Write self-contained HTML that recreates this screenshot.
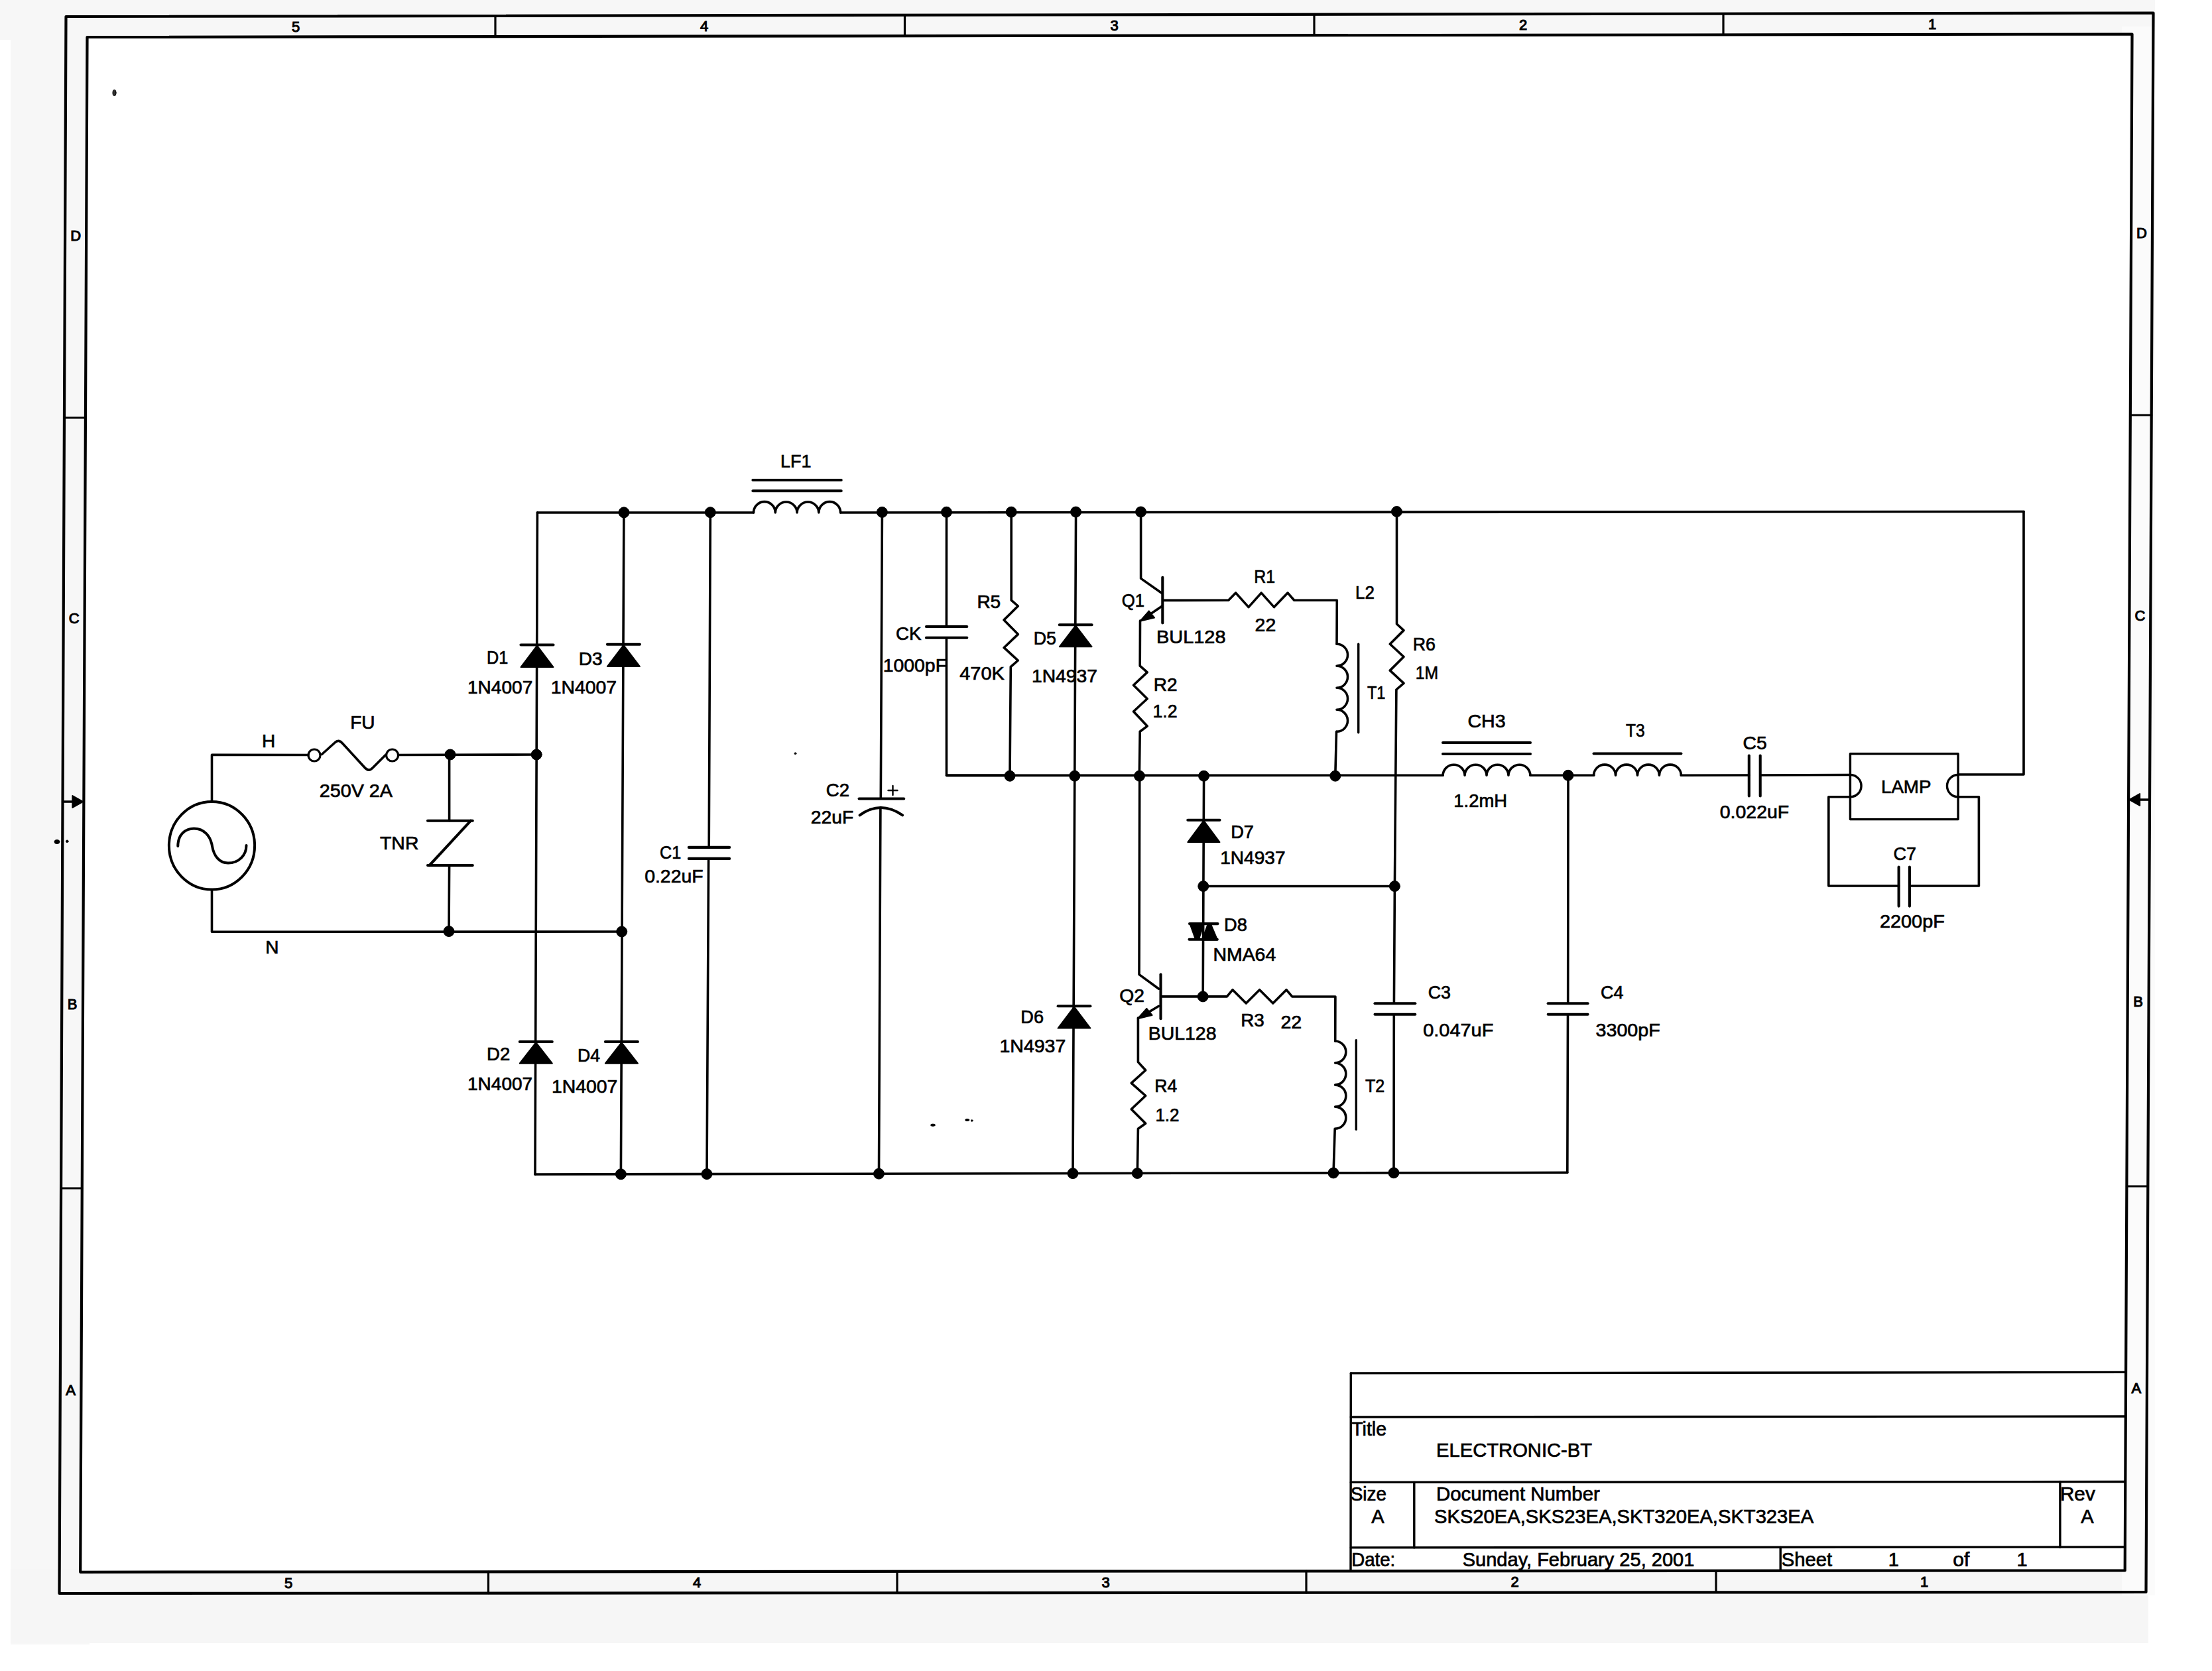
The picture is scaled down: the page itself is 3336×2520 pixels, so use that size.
<!DOCTYPE html>
<html><head><meta charset="utf-8"><title>ELECTRONIC-BT schematic</title>
<style>
html,body{margin:0;padding:0;background:#fff;}
body{width:3336px;height:2520px;overflow:hidden;}
svg{display:block;}
g.ink line, g.ink polyline, g.ink polygon, g.ink path, g.ink rect, g.ink circle, g.ink ellipse{stroke:#000;stroke-linecap:round;stroke-linejoin:round;}
text{font-family:"Liberation Sans", sans-serif;fill:#000;stroke:#000;stroke-width:0.7px;}
text.z{stroke-width:1.1px;}
</style></head>
<body>
<svg width="3336" height="2520" viewBox="0 0 3336 2520">
<rect x="0" y="0" width="3336" height="2520" fill="#fff" stroke="none"/>
<path d="M0,0 H3250 V60 H0 Z" fill="#f7f7f7" stroke="none"/>
<path d="M16,0 H135 V2480 H16 Z" fill="#f7f7f7" stroke="none"/>
<path d="M16,2366 H3240 V2478 H16 Z" fill="#f6f6f6" stroke="none"/>
<path d="M3200,40 H3250 V2406 H3200 Z" fill="#fbfbfb" stroke="none"/>
<polygon points="131.5,56 3215.5,51.5 3204.7,2368.4 121.2,2370.8" fill="#fff" stroke="none"/>
<g class="ink">
<polygon points="99.5,25 3247.5,19.5 3236.5,2401 89.5,2403" stroke-width="4.2" fill="none"/>
<polygon points="131.5,56 3215.5,51.5 3204.7,2368.4 121.2,2370.8" stroke-width="4.2" fill="none"/>
<line x1="747" y1="23.86872617534943" x2="747" y2="55.10189688715953" stroke-width="3.2"/>
<line x1="1364.5" y1="22.789866581956797" x2="1364.5" y2="54.20087548638132" stroke-width="3.2"/>
<line x1="1982" y1="21.71100698856417" x2="1982" y2="53.299854085603116" stroke-width="3.2"/>
<line x1="2599" y1="20.633020965692502" x2="2599" y2="52.39956225680934" stroke-width="3.2"/>
<line x1="736.5" y1="2370.3210896708288" x2="736.5" y2="2402.588814744201" stroke-width="3.2"/>
<line x1="1353" y1="2369.84124533809" x2="1353" y2="2402.1970130282807" stroke-width="3.2"/>
<line x1="1970" y1="2369.361011837198" x2="1970" y2="2401.804893549412" stroke-width="3.2"/>
<line x1="2588" y1="2368.88" x2="2588" y2="2401.4121385446456" stroke-width="3.2"/>
<line x1="96.95584524810765" y1="630" x2="128.94591325384482" y2="630" stroke-width="3.2"/>
<line x1="92.06938603868798" y1="1792" x2="123.77544496284776" y2="1792" stroke-width="3.2"/>
<line x1="3212.822025119772" y1="626" x2="3244.698614318707" y2="626" stroke-width="3.2"/>
<line x1="3207.4008157451767" y1="1789" x2="3239.3267898383374" y2="1789" stroke-width="3.2"/>
<line x1="94.52102607232969" y1="1209" x2="112.36957836530154" y2="1209" stroke-width="3.4"/>
<polygon points="125.36957836530154,1209 109.36957836530154,1200 109.36957836530154,1218" fill="#000" stroke-width="2" stroke-linejoin="round"/>
<line x1="3242.0196304849883" y1="1206" x2="3224.118412533989" y2="1206" stroke-width="3.4"/>
<polygon points="3211.118412533989,1206 3227.118412533989,1197 3227.118412533989,1215" fill="#000" stroke-width="2" stroke-linejoin="round"/>
<text class="z" x="446" y="47.8" font-size="22" text-anchor="middle">5</text>
<text class="z" x="1062" y="46.9" font-size="22" text-anchor="middle">4</text>
<text class="z" x="1680.5" y="45.9" font-size="22" text-anchor="middle">3</text>
<text class="z" x="2297" y="44.9" font-size="22" text-anchor="middle">2</text>
<text class="z" x="2914" y="43.9" font-size="22" text-anchor="middle">1</text>
<text class="z" x="435" y="2394.5" font-size="22" text-anchor="middle">5</text>
<text class="z" x="1051" y="2394.1" font-size="22" text-anchor="middle">4</text>
<text class="z" x="1667.5" y="2393.7" font-size="22" text-anchor="middle">3</text>
<text class="z" x="2284.5" y="2393.2" font-size="22" text-anchor="middle">2</text>
<text class="z" x="2902" y="2392.8" font-size="22" text-anchor="middle">1</text>
<text class="z" x="114.14092015571573" y="362.9" font-size="22" text-anchor="middle">D</text>
<text class="z" x="111.64183425576279" y="940.4" font-size="22" text-anchor="middle">C</text>
<text class="z" x="109.12327495918683" y="1522.4" font-size="22" text-anchor="middle">B</text>
<text class="z" x="106.60687937334674" y="2103.9" font-size="22" text-anchor="middle">A</text>
<text class="z" x="3230.0363662842074" y="358.9" font-size="22" text-anchor="middle">D</text>
<text class="z" x="3227.358988582438" y="935.9" font-size="22" text-anchor="middle">C</text>
<text class="z" x="3224.6584100340333" y="1517.9" font-size="22" text-anchor="middle">B</text>
<text class="z" x="3221.9531913163014" y="2100.9" font-size="22" text-anchor="middle">A</text>
<line x1="2037.3" y1="2070.9" x2="3205.5" y2="2069.4" stroke-width="3.4"/>
<line x1="2037.3" y1="2137" x2="3205.3" y2="2136" stroke-width="3.4"/>
<line x1="2037.3" y1="2235.4" x2="3205" y2="2234.5" stroke-width="3.4"/>
<line x1="2037.3" y1="2333.9" x2="3204.8" y2="2333" stroke-width="3.4"/>
<line x1="2037.3" y1="2070.9" x2="2037.0" y2="2368" stroke-width="3.4"/>
<line x1="2132.8" y1="2235.4" x2="2132.8" y2="2333.9" stroke-width="3.4"/>
<line x1="3106.9" y1="2234.5" x2="3106.9" y2="2333.5" stroke-width="3.4"/>
<line x1="2685.2" y1="2333.5" x2="2685.2" y2="2368" stroke-width="3.4"/>
<text class="t" x="2038.2" y="2165.0" font-size="29" textLength="52.9" lengthAdjust="spacingAndGlyphs">Title</text>
<text class="t" x="2166" y="2197.4" font-size="29" textLength="235.1" lengthAdjust="spacingAndGlyphs">ELECTRONIC-BT</text>
<text class="t" x="2036.7" y="2263.4" font-size="29" textLength="54.3" lengthAdjust="spacingAndGlyphs">Size</text>
<text class="t" x="2077.9" y="2297.2" font-size="29" text-anchor="middle">A</text>
<text class="t" x="2166" y="2263.4" font-size="29" textLength="246.9" lengthAdjust="spacingAndGlyphs">Document Number</text>
<text class="t" x="2163" y="2297.2" font-size="29" textLength="572.2" lengthAdjust="spacingAndGlyphs">SKS20EA,SKS23EA,SKT320EA,SKT323EA</text>
<text class="t" x="3106.9" y="2263.4" font-size="29" textLength="52.9" lengthAdjust="spacingAndGlyphs">Rev</text>
<text class="t" x="3148" y="2297.2" font-size="29" text-anchor="middle">A</text>
<text class="t" x="2038.2" y="2361.9" font-size="29" textLength="66.1" lengthAdjust="spacingAndGlyphs">Date:</text>
<text class="t" x="2205.7" y="2361.9" font-size="29" textLength="349.7" lengthAdjust="spacingAndGlyphs">Sunday, February 25, 2001</text>
<text class="t" x="2686.7" y="2361.9" font-size="29" textLength="76.4" lengthAdjust="spacingAndGlyphs">Sheet</text>
<text class="t" x="2855.7" y="2361.9" font-size="29" text-anchor="middle">1</text>
<text class="t" x="2945.3" y="2361.9" font-size="29" textLength="25.0" lengthAdjust="spacingAndGlyphs">of</text>
<text class="t" x="3049.6" y="2361.9" font-size="29" text-anchor="middle">1</text>
<ellipse cx="319.5" cy="1275.2" rx="64.6" ry="66.3" fill="none" stroke-width="4"/>
<path d="M268.3,1276 C268.3,1259 279,1249.4 292.5,1249.4 C308,1249.4 317.5,1261 320,1276 C322.5,1291 331,1301.6 344,1301.6 C360,1301.6 371.5,1290 371.5,1275" stroke-width="4" fill="none"/>
<polyline points="319.5,1208.5 319.5,1138.2 465,1138.5" stroke-width="3.6" fill="none"/>
<circle cx="474" cy="1139" r="9" fill="none" stroke-width="3.2"/>
<circle cx="591.6" cy="1139" r="9" fill="none" stroke-width="3.2"/>
<path d="M485.5,1137.5 L505.5,1119.5 Q511,1114.5 516.5,1121 L550,1157.5 Q556,1164.5 562,1158 L581.5,1138.5" stroke-width="3.6" fill="none"/>
<line x1="600.6" y1="1138.5" x2="809.2" y2="1138" stroke-width="3.6"/>
<circle cx="679" cy="1138" r="8" fill="#000" stroke="none"/>
<circle cx="809.2" cy="1138" r="8" fill="#000" stroke="none"/>
<line x1="677.6" y1="1138" x2="677.6" y2="1237.7" stroke-width="3.6"/>
<line x1="645" y1="1237.7" x2="712.8" y2="1237.7" stroke-width="4.1"/>
<line x1="710" y1="1237.7" x2="647.7" y2="1305" stroke-width="4.1"/>
<line x1="645" y1="1305" x2="712.8" y2="1305" stroke-width="4.1"/>
<line x1="677.6" y1="1305" x2="677" y2="1404.5" stroke-width="3.6"/>
<circle cx="677" cy="1404.5" r="8" fill="#000" stroke="none"/>
<polyline points="319.5,1341.5 319.5,1405.3 937.7,1405" stroke-width="3.6" fill="none"/>
<circle cx="937.7" cy="1405" r="8" fill="#000" stroke="none"/>
<line x1="810.4" y1="773" x2="807" y2="1771" stroke-width="3.6"/>
<line x1="940.9" y1="773" x2="936.4" y2="1771" stroke-width="3.6"/>
<line x1="785.5" y1="972.5" x2="834.5" y2="972.5" stroke-width="4.1"/>
<polygon points="810.0,973.5 785.5,1006 834.5,1006" fill="#000" stroke-width="2" stroke-linejoin="round"/>
<line x1="915.9" y1="971.8" x2="964.9" y2="971.8" stroke-width="4.1"/>
<polygon points="940.4,972.8 915.9,1005 964.9,1005" fill="#000" stroke-width="2" stroke-linejoin="round"/>
<line x1="783.8" y1="1571" x2="832.8" y2="1571" stroke-width="4.1"/>
<polygon points="808.3,1572 783.8,1603.7 832.8,1603.7" fill="#000" stroke-width="2" stroke-linejoin="round"/>
<line x1="912.9" y1="1571" x2="961.9" y2="1571" stroke-width="4.1"/>
<polygon points="937.4,1572 912.9,1603.7 961.9,1603.7" fill="#000" stroke-width="2" stroke-linejoin="round"/>
<line x1="810.4" y1="773" x2="1136.5" y2="773" stroke-width="3.6"/>
<path d="M1136.5,773 A16.39,16.39 0 0 1 1169.28,773 A16.39,16.39 0 0 1 1202.05,773 A16.39,16.39 0 0 1 1234.82,773 A16.39,16.39 0 0 1 1267.60,773" stroke-width="3.6" fill="none"/>
<line x1="1267.6" y1="773" x2="3052" y2="771.5" stroke-width="3.6"/>
<line x1="1135.4" y1="724" x2="1268.7" y2="724" stroke-width="4.1"/>
<line x1="1135.4" y1="740.2" x2="1268.7" y2="740.2" stroke-width="4.1"/>
<circle cx="941" cy="772.8539250669046" r="8" fill="#000" stroke="none"/>
<circle cx="1071.3" cy="772.7086306868867" r="8" fill="#000" stroke="none"/>
<circle cx="1330.4" cy="772.4197145405888" r="8" fill="#000" stroke="none"/>
<circle cx="1427.5" cy="772.3114406779661" r="8" fill="#000" stroke="none"/>
<circle cx="1525.2" cy="772.2024977698484" r="8" fill="#000" stroke="none"/>
<circle cx="1622.6" cy="772.0938893844782" r="8" fill="#000" stroke="none"/>
<circle cx="1720.6" cy="771.9846119536129" r="8" fill="#000" stroke="none"/>
<circle cx="2106.5" cy="771.5543041926851" r="8" fill="#000" stroke="none"/>
<line x1="807" y1="1771" x2="2363.8" y2="1768.3" stroke-width="3.6"/>
<circle cx="936.4" cy="1770.7756069364161" r="8" fill="#000" stroke="none"/>
<circle cx="1066" cy="1770.550867052023" r="8" fill="#000" stroke="none"/>
<circle cx="1325.5" cy="1770.1008670520232" r="8" fill="#000" stroke="none"/>
<circle cx="1618" cy="1769.593641618497" r="8" fill="#000" stroke="none"/>
<circle cx="1715.3" cy="1769.4249132947978" r="8" fill="#000" stroke="none"/>
<circle cx="2011" cy="1768.9121387283237" r="8" fill="#000" stroke="none"/>
<circle cx="2102" cy="1768.7543352601156" r="8" fill="#000" stroke="none"/>
<line x1="1071.3" y1="773" x2="1069.2" y2="1277.9" stroke-width="3.6"/>
<line x1="1068.6" y1="1294.9" x2="1066" y2="1771" stroke-width="3.6"/>
<line x1="1038.8" y1="1277.9" x2="1100.1" y2="1277.9" stroke-width="4.1"/>
<line x1="1038.8" y1="1294.9" x2="1100.1" y2="1294.9" stroke-width="4.1"/>
<line x1="1330.4" y1="773" x2="1328.3" y2="1204.5" stroke-width="3.6"/>
<line x1="1295.6" y1="1204.5" x2="1363.2" y2="1204.5" stroke-width="4.1"/>
<path d="M1296.6,1229.4 Q1328,1206.6 1361.1,1229.4" stroke-width="4.1" fill="none"/>
<line x1="1327.9" y1="1218" x2="1325.5" y2="1771" stroke-width="3.6"/>
<line x1="1339.5" y1="1192" x2="1353.5" y2="1192" stroke-width="2.4"/>
<line x1="1346.5" y1="1185" x2="1346.5" y2="1199" stroke-width="2.4"/>
<line x1="1427.5" y1="773" x2="1427.4" y2="945" stroke-width="3.6"/>
<line x1="1396.9" y1="945" x2="1458.3" y2="945" stroke-width="4.1"/>
<line x1="1396.9" y1="961.7" x2="1458.3" y2="961.7" stroke-width="4.1"/>
<polyline points="1427.4,961.7 1427.5,1169.4 1523,1169.4" stroke-width="3.6" fill="none"/>
<line x1="1427.5" y1="1169.4" x2="2176.1" y2="1169.3" stroke-width="3.6"/>
<path d="M2176.1,1169.3 A16.48,16.48 0 0 1 2209.05,1169.3 A16.48,16.48 0 0 1 2242.00,1169.3 A16.48,16.48 0 0 1 2274.95,1169.3 A16.48,16.48 0 0 1 2307.90,1169.3" stroke-width="3.6" fill="none"/>
<line x1="2307.9" y1="1169.3" x2="2403.6" y2="1169.3" stroke-width="3.6"/>
<path d="M2403.6,1169.2 A16.48,16.48 0 0 1 2436.55,1169.2 A16.48,16.48 0 0 1 2469.50,1169.2 A16.48,16.48 0 0 1 2502.45,1169.2 A16.48,16.48 0 0 1 2535.40,1169.2" stroke-width="3.6" fill="none"/>
<line x1="2535.4" y1="1169.2" x2="2637.8" y2="1169" stroke-width="3.6"/>
<line x1="2654.7" y1="1169" x2="2790.4" y2="1168.5" stroke-width="3.6"/>
<line x1="2176" y1="1120" x2="2308" y2="1120" stroke-width="4.1"/>
<line x1="2176" y1="1137" x2="2308" y2="1137" stroke-width="4.1"/>
<line x1="2403.6" y1="1136.5" x2="2535.4" y2="1136.5" stroke-width="4.1"/>
<line x1="2637.8" y1="1139.5" x2="2637.8" y2="1200.4" stroke-width="4.1"/>
<line x1="2654.7" y1="1139.5" x2="2654.7" y2="1200.4" stroke-width="4.1"/>
<circle cx="2365" cy="1169.3" r="8" fill="#000" stroke="none"/>
<circle cx="1523" cy="1170.2" r="8" fill="#000" stroke="none"/>
<circle cx="1620.8" cy="1170.2" r="8" fill="#000" stroke="none"/>
<circle cx="1718.5" cy="1170.2" r="8" fill="#000" stroke="none"/>
<circle cx="1815.6" cy="1170.2" r="8" fill="#000" stroke="none"/>
<circle cx="2013.8" cy="1170.2" r="8" fill="#000" stroke="none"/>
<polyline points="1525.2,773 1525.2,905.2 1535.3,914 1514.1,934.9 1535.3,956.6 1514.1,976.7 1535.3,996 1524.3,1005.6 1523,1169.4" stroke-width="3.6" fill="none"/>
<line x1="1622.6" y1="773" x2="1618" y2="1769.6" stroke-width="3.6"/>
<line x1="1597.8" y1="942.3" x2="1646.6000000000001" y2="942.3" stroke-width="4.1"/>
<polygon points="1622.2,943.3 1597.8,975.3 1646.6000000000001,975.3" fill="#000" stroke-width="2" stroke-linejoin="round"/>
<line x1="1595.6" y1="1517.3" x2="1644.4" y2="1517.3" stroke-width="4.1"/>
<polygon points="1620.0,1518.3 1595.6,1550.6 1644.4,1550.6" fill="#000" stroke-width="2" stroke-linejoin="round"/>
<polyline points="1720.6,773 1720.6,872.4 1752.5,894.8" stroke-width="3.6" fill="none"/>
<line x1="1753.3" y1="870.7" x2="1753.3" y2="939.5" stroke-width="4.1"/>
<polyline points="1754.5,905.4 1852.7,905.2 1863.7,894.1 1883,915.6 1902.2,894.1 1921.5,915.6 1942.1,894.1 1951.8,905.2 2016.3,905.2 2016.0,971.2" stroke-width="3.6" fill="none"/>
<line x1="1751.9" y1="914.5" x2="1728" y2="930.8" stroke-width="3.6"/>
<polygon points="1719.2,936.9 1732.8,921.4 1741,931.6" fill="#000" stroke-width="2" stroke-linejoin="round"/>
<polyline points="1719.5,936 1719.2,1004.2 1730.2,1013.9 1709.5,1033.2 1730.2,1053.8 1709.5,1073 1730.2,1095.1 1719.2,1103.3 1718.3,1169.4" stroke-width="3.6" fill="none"/>
<path d="M2016.0,971.2 A16.51,16.51 0 0 1 2016.0,1004.23 A16.51,16.51 0 0 1 2016.0,1037.25 A16.51,16.51 0 0 1 2016.0,1070.28 A16.51,16.51 0 0 1 2016.0,1103.30" stroke-width="3.6" fill="none"/>
<line x1="2015.5" y1="1103.3" x2="2013.8" y2="1169.4" stroke-width="3.6"/>
<line x1="2048.7" y1="971.2" x2="2048.7" y2="1104.7" stroke-width="3.4"/>
<polyline points="2106.5,773 2106.5,941 2117,950.6 2096.3,971.2 2117,990.5 2096.3,1011.1 2117,1030.4 2105.9,1040 2103.4,1336.5 2102.4,1513.3" stroke-width="3.6" fill="none"/>
<line x1="2073.5" y1="1513.3" x2="2134.3" y2="1513.3" stroke-width="4.1"/>
<line x1="2073.5" y1="1529.8" x2="2134.3" y2="1529.8" stroke-width="4.1"/>
<line x1="2102.3" y1="1529.8" x2="2102" y2="1768.3" stroke-width="3.6"/>
<circle cx="2103.4" cy="1336.5" r="8" fill="#000" stroke="none"/>
<line x1="1815.6" y1="1170" x2="1814.2" y2="1502.9" stroke-width="3.6"/>
<line x1="1791.3000000000002" y1="1236.7" x2="1839.5" y2="1236.7" stroke-width="4.1"/>
<polygon points="1815.4,1237.7 1791.3000000000002,1270 1839.5,1270" fill="#000" stroke-width="2" stroke-linejoin="round"/>
<circle cx="1814.8" cy="1336.5" r="8" fill="#000" stroke="none"/>
<line x1="1814.8" y1="1336.5" x2="2103.4" y2="1336.5" stroke-width="3.6"/>
<line x1="1794" y1="1393.1" x2="1836.5" y2="1393.1" stroke-width="4.1"/>
<line x1="1793.5" y1="1416.8" x2="1835.8" y2="1416.8" stroke-width="4.1"/>
<polygon points="1794.4,1392.6 1815.7,1392.6 1808.4,1415.2 1802.5,1415.2" fill="#000" stroke-width="2" stroke-linejoin="round"/>
<polygon points="1821.5,1394 1826.1,1394 1836,1417.5 1812.9,1417.5" fill="#000" stroke-width="2" stroke-linejoin="round"/>
<circle cx="1814.2" cy="1502.9" r="8" fill="#000" stroke="none"/>
<polyline points="1718.7,1171 1718.0,1469.6 1747.6,1491.3" stroke-width="3.6" fill="none"/>
<line x1="1750.5" y1="1469.6" x2="1750.5" y2="1536.2" stroke-width="4.1"/>
<polyline points="1752,1502.9 1850.4,1502.9 1859,1492.7 1879.3,1513 1899.6,1492.7 1919.8,1513 1940,1492.7 1948.7,1502.9 2013.9,1503 2013.7,1570" stroke-width="3.6" fill="none"/>
<line x1="1747.6" y1="1517.3" x2="1725" y2="1530.7" stroke-width="3.6"/>
<polygon points="1715.8,1536.2 1729.3,1521 1737.5,1531" fill="#000" stroke-width="2" stroke-linejoin="round"/>
<polyline points="1716.4,1535 1716.4,1601.6 1727.7,1614 1706.2,1633.3 1727.7,1652.5 1706.2,1672.8 1727.7,1694.3 1716.4,1702.2 1715.3,1769.6" stroke-width="3.6" fill="none"/>
<path d="M2013.7,1570 A16.53,16.53 0 0 1 2013.7,1603.05 A16.53,16.53 0 0 1 2013.7,1636.10 A16.53,16.53 0 0 1 2013.7,1669.15 A16.53,16.53 0 0 1 2013.7,1702.20" stroke-width="3.6" fill="none"/>
<line x1="2013.2" y1="1702.2" x2="2011" y2="1769.6" stroke-width="3.6"/>
<line x1="2045.3" y1="1568.8" x2="2045.3" y2="1703.3" stroke-width="3.4"/>
<line x1="2365" y1="1169.3" x2="2364.7" y2="1513.3" stroke-width="3.6"/>
<line x1="2334.7" y1="1513.3" x2="2394.6" y2="1513.3" stroke-width="4.1"/>
<line x1="2334.7" y1="1529.8" x2="2394.6" y2="1529.8" stroke-width="4.1"/>
<line x1="2364.5" y1="1529.8" x2="2363.8" y2="1768.3" stroke-width="3.6"/>
<polyline points="3052,771.5 3052,1168 2953.1,1168" stroke-width="3.6" fill="none"/>
<rect x="2790.4" y="1136.7" width="162.7" height="98.9" fill="none" stroke-width="3.4"/>
<path d="M2790.4,1168.5 A16.6,16.6 0 0 1 2790.4,1201.8" stroke-width="3.4" fill="none"/>
<path d="M2953.1,1168.5 A16.6,16.6 0 0 0 2953.1,1201.8" stroke-width="3.4" fill="none"/>
<polyline points="2790.4,1201.8 2757.8,1201.8 2757.8,1336 2863.6,1336" stroke-width="3.6" fill="none"/>
<polyline points="2879.9,1336 2984.4,1336 2984.4,1201.8 2953.1,1201.8" stroke-width="3.6" fill="none"/>
<line x1="2863.6" y1="1307.6" x2="2863.6" y2="1366.6" stroke-width="4.1"/>
<line x1="2879.9" y1="1307.6" x2="2879.9" y2="1366.6" stroke-width="4.1"/>
<ellipse cx="172.5" cy="140" rx="2.5" ry="4.5" fill="#333" stroke="none"/>
<ellipse cx="1407" cy="1696.7" rx="3.5" ry="1.6" fill="#000" stroke="none"/>
<ellipse cx="1458.7" cy="1689" rx="3" ry="1.5" fill="#000" stroke="none"/>
<circle cx="1465.8" cy="1690" r="1.3" fill="#000" stroke="none"/>
<ellipse cx="86" cy="1269.5" rx="4" ry="3" fill="#000" stroke="none"/>
<circle cx="101.3" cy="1268.8" r="1.8" fill="#000" stroke="none"/>
<circle cx="1199.5" cy="1136.3" r="1.4" fill="#111" stroke="none"/>
<text class="t" x="405" y="1126.5" font-size="28" text-anchor="middle">H</text>
<text class="t" x="546.8" y="1099.3" font-size="28" text-anchor="middle">FU</text>
<text class="t" x="481.7" y="1202.4" font-size="28" textLength="110.3" lengthAdjust="spacingAndGlyphs">250V 2A</text>
<text class="t" x="573" y="1280.6" font-size="28" textLength="58.4" lengthAdjust="spacingAndGlyphs">TNR</text>
<text class="t" x="410.4" y="1438.4" font-size="28" text-anchor="middle">N</text>
<text class="t" x="733.9" y="1000.5" font-size="28" textLength="32.3" lengthAdjust="spacingAndGlyphs">D1</text>
<text class="t" x="705" y="1046.0" font-size="28" textLength="98.3" lengthAdjust="spacingAndGlyphs">1N4007</text>
<text class="t" x="872.7" y="1002.9" font-size="28" textLength="35.9" lengthAdjust="spacingAndGlyphs">D3</text>
<text class="t" x="830.8" y="1046.0" font-size="28" textLength="99.3" lengthAdjust="spacingAndGlyphs">1N4007</text>
<text class="t" x="734" y="1598.6" font-size="28" textLength="35.2" lengthAdjust="spacingAndGlyphs">D2</text>
<text class="t" x="705" y="1643.9" font-size="28" textLength="98.2" lengthAdjust="spacingAndGlyphs">1N4007</text>
<text class="t" x="871" y="1601.0" font-size="28" textLength="34.0" lengthAdjust="spacingAndGlyphs">D4</text>
<text class="t" x="832" y="1647.7" font-size="28" textLength="99.4" lengthAdjust="spacingAndGlyphs">1N4007</text>
<text class="t" x="995.1" y="1294.5" font-size="28" textLength="32.2" lengthAdjust="spacingAndGlyphs">C1</text>
<text class="t" x="972.2" y="1330.9" font-size="28" textLength="88.4" lengthAdjust="spacingAndGlyphs">0.22uF</text>
<text class="t" x="1177" y="705.0" font-size="28" textLength="46.5" lengthAdjust="spacingAndGlyphs">LF1</text>
<text class="t" x="1245.7" y="1201.0" font-size="28" textLength="35.3" lengthAdjust="spacingAndGlyphs">C2</text>
<text class="t" x="1222.8" y="1241.5" font-size="28" textLength="64.5" lengthAdjust="spacingAndGlyphs">22uF</text>
<text class="t" x="1351" y="964.7" font-size="28" textLength="38.5" lengthAdjust="spacingAndGlyphs">CK</text>
<text class="t" x="1331.7" y="1012.9" font-size="28" textLength="96.3" lengthAdjust="spacingAndGlyphs">1000pF</text>
<text class="t" x="1473.4" y="916.5" font-size="28" textLength="35.8" lengthAdjust="spacingAndGlyphs">R5</text>
<text class="t" x="1447.3" y="1025.3" font-size="28" textLength="67.4" lengthAdjust="spacingAndGlyphs">470K</text>
<text class="t" x="1558.7" y="971.6" font-size="28" textLength="34.3" lengthAdjust="spacingAndGlyphs">D5</text>
<text class="t" x="1556" y="1029.4" font-size="28" textLength="99.0" lengthAdjust="spacingAndGlyphs">1N4937</text>
<text class="t" x="1691.7" y="915.2" font-size="28" textLength="34.3" lengthAdjust="spacingAndGlyphs">Q1</text>
<text class="t" x="1744" y="970.2" font-size="28" textLength="104.5" lengthAdjust="spacingAndGlyphs">BUL128</text>
<text class="t" x="1891.2" y="879.4" font-size="28" textLength="31.8" lengthAdjust="spacingAndGlyphs">R1</text>
<text class="t" x="1892.6" y="952.3" font-size="28" textLength="31.6" lengthAdjust="spacingAndGlyphs">22</text>
<text class="t" x="2044" y="902.8" font-size="28" textLength="28.9" lengthAdjust="spacingAndGlyphs">L2</text>
<text class="t" x="2061.9" y="1054.2" font-size="28" textLength="27.5" lengthAdjust="spacingAndGlyphs">T1</text>
<text class="t" x="2130.7" y="981.2" font-size="28" textLength="34.3" lengthAdjust="spacingAndGlyphs">R6</text>
<text class="t" x="2134.8" y="1023.9" font-size="28" textLength="34.4" lengthAdjust="spacingAndGlyphs">1M</text>
<text class="t" x="1739.8" y="1041.8" font-size="28" textLength="35.8" lengthAdjust="spacingAndGlyphs">R2</text>
<text class="t" x="1738.4" y="1081.7" font-size="28" textLength="37.2" lengthAdjust="spacingAndGlyphs">1.2</text>
<text class="t" x="2213.4" y="1097.2" font-size="28" textLength="57.2" lengthAdjust="spacingAndGlyphs">CH3</text>
<text class="t" x="2192.3" y="1216.6" font-size="28" textLength="80.7" lengthAdjust="spacingAndGlyphs">1.2mH</text>
<text class="t" x="2452" y="1110.9" font-size="28" textLength="28.7" lengthAdjust="spacingAndGlyphs">T3</text>
<text class="t" x="2628.6" y="1129.6" font-size="28" textLength="36.1" lengthAdjust="spacingAndGlyphs">C5</text>
<text class="t" x="2593.8" y="1234.0" font-size="28" textLength="104.4" lengthAdjust="spacingAndGlyphs">0.022uF</text>
<text class="t" x="2837" y="1195.5" font-size="28" textLength="75.4" lengthAdjust="spacingAndGlyphs">LAMP</text>
<text class="t" x="2855.5" y="1297.2" font-size="28" textLength="34.5" lengthAdjust="spacingAndGlyphs">C7</text>
<text class="t" x="2835" y="1399.0" font-size="28" textLength="97.8" lengthAdjust="spacingAndGlyphs">2200pF</text>
<text class="t" x="1856.2" y="1264.0" font-size="28" textLength="34.8" lengthAdjust="spacingAndGlyphs">D7</text>
<text class="t" x="1840.2" y="1303.1" font-size="28" textLength="98.4" lengthAdjust="spacingAndGlyphs">1N4937</text>
<text class="t" x="1846" y="1404.4" font-size="28" textLength="34.8" lengthAdjust="spacingAndGlyphs">D8</text>
<text class="t" x="1829.5" y="1449.2" font-size="28" textLength="94.7" lengthAdjust="spacingAndGlyphs">NMA64</text>
<text class="t" x="1688.3" y="1511.4" font-size="28" textLength="37.7" lengthAdjust="spacingAndGlyphs">Q2</text>
<text class="t" x="1731.7" y="1567.9" font-size="28" textLength="102.8" lengthAdjust="spacingAndGlyphs">BUL128</text>
<text class="t" x="1871.2" y="1547.6" font-size="28" textLength="35.6" lengthAdjust="spacingAndGlyphs">R3</text>
<text class="t" x="1931.4" y="1550.5" font-size="28" textLength="31.8" lengthAdjust="spacingAndGlyphs">22</text>
<text class="t" x="1539.3" y="1543.3" font-size="28" textLength="34.7" lengthAdjust="spacingAndGlyphs">D6</text>
<text class="t" x="1507.5" y="1586.7" font-size="28" textLength="99.8" lengthAdjust="spacingAndGlyphs">1N4937</text>
<text class="t" x="1741.3" y="1646.7" font-size="28" textLength="33.9" lengthAdjust="spacingAndGlyphs">R4</text>
<text class="t" x="1742.4" y="1690.7" font-size="28" textLength="36.2" lengthAdjust="spacingAndGlyphs">1.2</text>
<text class="t" x="2058.9" y="1646.7" font-size="28" textLength="29.3" lengthAdjust="spacingAndGlyphs">T2</text>
<text class="t" x="2153.7" y="1506.0" font-size="28" textLength="34.3" lengthAdjust="spacingAndGlyphs">C3</text>
<text class="t" x="2146.2" y="1562.8" font-size="28" textLength="106.2" lengthAdjust="spacingAndGlyphs">0.047uF</text>
<text class="t" x="2414" y="1506.0" font-size="28" textLength="34.4" lengthAdjust="spacingAndGlyphs">C4</text>
<text class="t" x="2406.5" y="1562.8" font-size="28" textLength="97.3" lengthAdjust="spacingAndGlyphs">3300pF</text>
</g>
</svg>
</body></html>
